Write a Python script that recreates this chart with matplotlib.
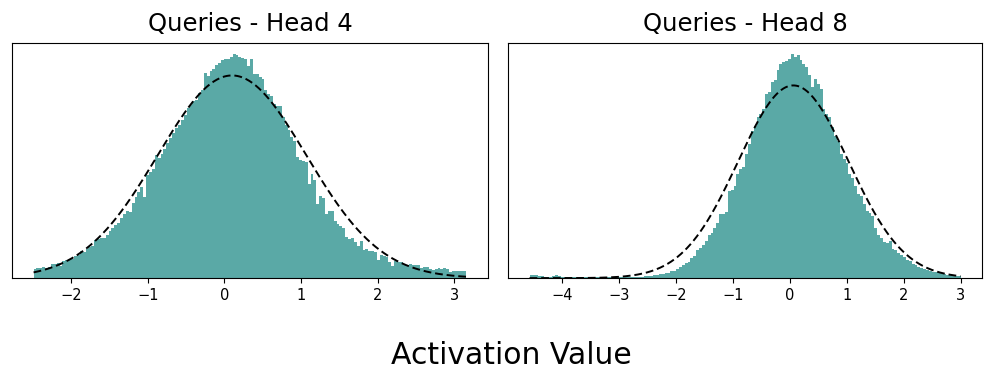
import numpy as np
import matplotlib
matplotlib.use("Agg")
import matplotlib.pyplot as plt

# bar heights (arbitrary units, 150 bins per panel)
head4_range = (-2.49, 3.16)
head4_counts = [
    28, 30, 30, 32, 30, 33, 42, 42, 44, 36,
    50, 55, 57, 58, 65, 68, 80, 78, 88, 92,
    95, 112, 115, 118, 120, 128, 140, 150, 158, 165,
    178, 190, 200, 195, 222, 240, 255, 270, 240, 305,
    315, 325, 365, 358, 370, 385, 400, 415, 432, 445,
    455, 470, 485, 505, 515, 525, 528, 550, 558, 610,
    600, 615, 622, 632, 638, 648, 650, 652, 658, 665,
    662, 658, 655, 652, 630, 650, 605, 605, 598, 590,
    560, 548, 540, 518, 510, 512, 478, 455, 440, 420,
    408, 360, 352, 348, 345, 280, 310, 290, 220, 245,
    238, 190, 198, 200, 170, 162, 155, 150, 122, 115,
    118, 108, 95, 110, 85, 88, 82, 80, 78, 55,
    68, 65, 62, 48, 35, 50, 48, 47, 40, 38,
    42, 40, 40, 38, 30, 32, 33, 28, 25, 27,
    30, 28, 30, 26, 18, 22, 20, 22, 22, 22,
]
head4_fit = dict(mu=0.10, sigma=0.97, peak=602)

head8_range = (-4.58, 3.00)
head8_counts = [
    8, 8, 8, 7, 6, 4, 4, 3, 5, 8,
    6, 4, 3, 3, 2, 2, 2, 3, 2, 2,
    3, 2, 2, 2, 3, 2, 2, 2, 2, 2,
    2, 2, 2, 2, 3, 3, 3, 3, 4, 4,
    5, 6, 7, 8, 9, 11, 12, 14, 16, 20,
    22, 28, 32, 38, 44, 48, 60, 66, 85, 90,
    100, 112, 130, 135, 150, 165, 190, 192, 198, 260,
    262, 275, 310, 325, 332, 370, 400, 440, 455, 480,
    490, 505, 550, 555, 585, 592, 620, 640, 645, 648,
    655, 668, 660, 665, 650, 640, 630, 605, 570, 595,
    580, 565, 505, 490, 480, 450, 425, 410, 370, 355,
    345, 310, 300, 275, 250, 245, 220, 200, 195, 185,
    150, 130, 120, 108, 105, 110, 88, 85, 75, 68,
    62, 55, 52, 42, 38, 32, 30, 28, 24, 22,
    18, 17, 15, 14, 12, 10, 9, 7, 6, 5,
]
head8_fit = dict(mu=0.06, sigma=0.97, peak=575)

titles = ["Queries - Head 4", "Queries - Head 8"]
bar_color = "#5aa9a6"

fig = plt.figure(figsize=(9.96, 3.81), dpi=100)
ax1 = fig.add_axes([0.012, 0.270, 0.478, 0.617])
ax2 = fig.add_axes([0.510, 0.270, 0.476, 0.617])

panels = [
    (ax1, head4_range, head4_counts, head4_fit, titles[0], [-2, -1, 0, 1, 2, 3]),
    (ax2, head8_range, head8_counts, head8_fit, titles[1], [-4, -3, -2, -1, 0, 1, 2, 3]),
]

for ax, rng, counts, fit, title, ticks in panels:
    edges = np.linspace(rng[0], rng[1], len(counts) + 1)
    ax.bar(edges[:-1], counts, width=np.diff(edges), align="edge",
           color=bar_color, linewidth=0)
    # fitted normal curve
    xs = np.linspace(rng[0], rng[1], 400)
    ys = fit["peak"] * np.exp(-(xs - fit["mu"]) ** 2 / (2 * fit["sigma"] ** 2))
    ax.plot(xs, ys, color="black", linestyle=(0, (4, 2)), linewidth=1.4)
    ax.set_title(title, fontsize=17.5, pad=9)
    ax.set_yticks([])
    ax.set_xticks(ticks)
    ax.set_xticklabels([f"\u2212{abs(t)}" if t < 0 else str(t) for t in ticks])
    ax.tick_params(axis="x", labelsize=10.5)

fig.text(0.513, 0.068, "Activation Value", ha="center", va="center", fontsize=21.5)

fig.savefig("out.png", dpi=100)
